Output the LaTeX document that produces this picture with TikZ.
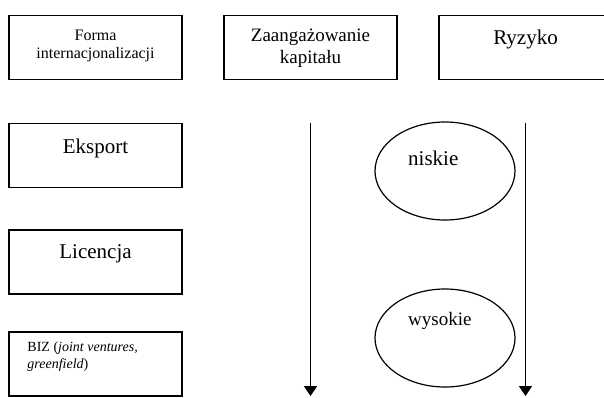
\documentclass[tikz,border=0pt]{standalone}
\usepackage{fontspec}
\setmainfont{Liberation Serif}
\usetikzlibrary{positioning,shapes.geometric,arrows.meta}

\begin{document}
\begin{tikzpicture}[
  x=1pt, y=-1pt,
  % Box styles
  box/.style={
    rectangle,
    draw=black,
    line width=1.5pt,
    minimum width=173pt,
    minimum height=64pt,
    inner sep=0pt
  },
  boxtxt/.style={
    align=center,
    inner sep=2pt,
    font=\fontsize{21}{24}\selectfont
  },
  % Ellipse style
  oval/.style={
    ellipse,
    draw=black,
    line width=1.2pt,
    minimum width=140pt,
    minimum height=98pt,
    inner sep=0pt
  },
  ovaltxt/.style={
    anchor=west,
    inner sep=0pt,
    font=\fontsize{21}{24}\selectfont
  },
  % Arrow style
  arrow/.style={
    -{Triangle[width=13pt,length=10pt]},
    line width=1.8pt,
    draw=black
  }
]
\useasboundingbox (0,0) rectangle (604,397);
\clip (0,0) rectangle (604,397);

% === HEADER BOXES ===
\node[box] (forma) at (95.5,47.5) {};
\node[box] (kapital) at (310.5,47.5) {};
\node[box] (ryzyko) at (525.5,47.5) {};

\node[boxtxt, below=13pt of forma.north, font=\fontsize{16}{18}\selectfont] (formaT) {Forma\\internacjonalizacji};
\node[boxtxt, below=12pt of kapital.north, font=\fontsize{19}{22}\selectfont] (kapitalT) {Zaangażowanie\\kapitału};
\node[boxtxt, below=13pt of ryzyko.north] (ryzykoT) {Ryzyko};

% === FORMS ===
\node[box] (eksport) at (95.5,155.5) {};
\node[box] (licencja) at (95.5,262) {};
\node[box] (biz) at (95.5,364) {};

\node[boxtxt, below=14pt of eksport.north] (eksportT) {Eksport};
\node[boxtxt, below=13pt of licencja.north] (licencjaT) {Licencja};
\node[anchor=north west, align=left, inner sep=0pt, font=\fontsize{14}{17}\selectfont]
  (bizT) at ([xshift=19pt,yshift=-10pt]biz.north west) {BIZ (\textit{joint ventures,}\\\textit{greenfield})};

% === ARROWS ===
\coordinate (kapStart) at (kapital.south |- eksport.north);
\coordinate (kapEnd) at (kapital.south |- 0,396);
\coordinate (ryzStart) at (ryzyko.south |- eksport.north);
\coordinate (ryzEnd) at (ryzyko.south |- 0,396);
\draw[arrow] (kapStart) -- (kapEnd);
\draw[arrow] (ryzStart) -- (ryzEnd);

% === RISK LEVELS ===
\node[oval] (niskie) at (445,171) {};
\node[oval] (wysokie) at (445,338) {};
\node[ovaltxt] (niskieT) at (408,158) {niskie};
\node[ovaltxt, font=\fontsize{19}{22}\selectfont] (wysokieT) at (408,321) {wysokie};

\end{tikzpicture}
\end{document}
